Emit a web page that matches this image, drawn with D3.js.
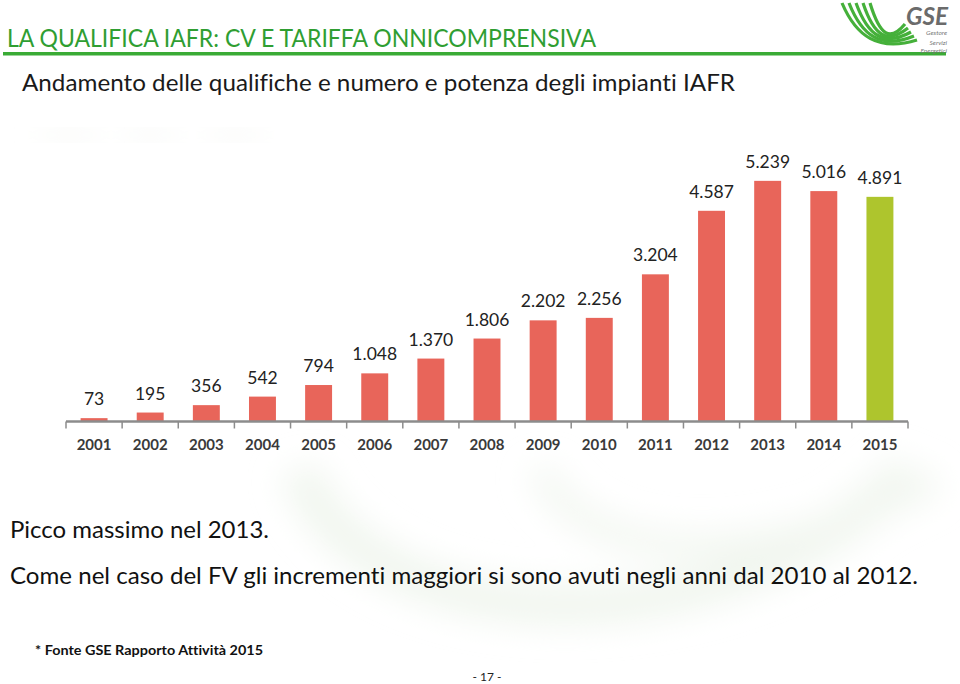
<!DOCTYPE html>
<meta charset="utf-8">
<head>
    <title>Qualifica IAFR</title>
</head>
<style>
    body { margin: 0; background: #fff; }
    svg { display: block; }
    text { font-family: Lato, "Open Sans", sans-serif; font-variant-ligatures: none; }
    .axis .domain { stroke: #8c8c8c; stroke-width: 2.5px; }
    .axis text { font-size: 15px; font-weight: bold; fill: #3a3a3a; }
    .value { font-size: 17.5px; fill: #222; text-anchor: middle; }
</style>
<svg width="960" height="684"></svg>
<script src="https://d3js.org/d3.v7.min.js"></script>
<script>

    // data
    var years = ["2001", "2002", "2003", "2004", "2005", "2006", "2007", "2008",
                 "2009", "2010", "2011", "2012", "2013", "2014", "2015"];
    var qualifiche = [73, 195, 356, 542, 794, 1048, 1370, 1806,
                      2202, 2256, 3204, 4587, 5239, 5016, 4891];
    var labels = ["73", "195", "356", "542", "794", "1.048", "1.370", "1.806",
                  "2.202", "2.256", "3.204", "4.587", "5.239", "5.016", "4.891"];

    var svg = d3.select("svg");

    // faint background watermark
    var defs = svg.append("defs");
    defs.append("filter").attr("id", "blur")
        .attr("x", "-50%").attr("y", "-50%").attr("width", "200%").attr("height", "200%")
        .append("feGaussianBlur").attr("stdDeviation", 16);
    var bg = svg.append("g").attr("filter", "url(#blur)");
    bg.append("path")
        .attr("d", "M300,470 C360,640 720,660 910,470")
        .attr("fill", "none").attr("stroke", "#f1f6ef").attr("stroke-width", 40);
    bg.append("path")
        .attr("d", "M540,470 C590,570 770,570 935,480")
        .attr("fill", "none").attr("stroke", "#f3f7f1").attr("stroke-width", 26);
    [[42, 55], [125, 50], [210, 50]].forEach(function(p) {
        svg.append("rect").attr("x", p[0]).attr("y", 131).attr("width", p[1]).attr("height", 8)
            .attr("fill", "#f3f4f0").attr("filter", "url(#blur)");
    });

    // header
    svg.append("text")
        .attr("x", 7).attr("y", 47)
        .attr("font-size", 24.5).attr("fill", "#2f9e32")
        .attr("textLength", 589).attr("lengthAdjust", "spacingAndGlyphs")
        .text("LA QUALIFICA IAFR: CV E TARIFFA ONNICOMPRENSIVA");

    svg.append("rect")
        .attr("x", 3).attr("y", 52).attr("width", 943).attr("height", 3.5)
        .attr("fill", "#3aab35");

    // logo
    var logo = svg.append("g");
    d3.range(5).forEach(function(i) {
        logo.append("path")
            .attr("d", "M" + (842 + i * 7) + ",3 C" + (856 + i * 6) + ",36 " + (878 + i * 3) + "," + (52 - i * 2.5) +
                " " + (917 - i * 3) + "," + (40 - i * 4))
            .attr("fill", "none").attr("stroke", "#45b03a").attr("stroke-width", 3.2);
    });
    logo.append("text")
        .attr("x", 906).attr("y", 25)
        .attr("font-size", 25).attr("font-weight", "bold").attr("font-style", "italic")
        .attr("textLength", 42).attr("lengthAdjust", "spacingAndGlyphs")
        .attr("fill", "#6b6b6b").text("GSE");
    [["Gestore", 35], ["Servizi", 45], ["Energetici", 53]].forEach(function(t) {
        logo.append("text")
            .attr("x", 947).attr("y", t[1]).attr("text-anchor", "end")
            .attr("font-size", 6.5).attr("font-style", "italic").attr("fill", "#777").text(t[0]);
    });

    svg.append("text")
        .attr("x", 22).attr("y", 91)
        .attr("font-size", 23.5).attr("fill", "#1a1a1a")
        .attr("textLength", 713).attr("lengthAdjust", "spacingAndGlyphs")
        .text("Andamento delle qualifiche e numero e potenza degli impianti IAFR");

    // chart
    var x = d3.scaleBand()
        .domain(years)
        .range([66, 908])
        .paddingInner(0.52)
        .paddingOuter(0.26);

    var y = d3.scaleLinear()
        .domain([0, 6000])
        .range([421.5, 145.9]);

    var data = years.map(function(yr, i) {
        return { year: yr, value: qualifiche[i], label: labels[i] };
    });

    var g = svg.append("g");

    g.selectAll(".bar")
        .data(data)
        .enter().append("rect")
        .attr("class", "bar")
        .attr("x", function(d) { return x(d.year); })
        .attr("width", x.bandwidth())
        .attr("y", function(d) { return y(d.value); })
        .attr("height", function(d) { return y(0) - y(d.value); })
        .attr("fill", function(d) { return d.year === "2015" ? "#aec52d" : "#e8655a"; });

    g.selectAll(".value")
        .data(data)
        .enter().append("text")
        .attr("class", "value")
        .attr("x", function(d) { return x(d.year) + x.bandwidth() / 2; })
        .attr("y", function(d) { return y(d.value) - 13; })
        .text(function(d) { return d.label; });

    var axis = g.append("g")
        .attr("class", "axis")
        .attr("transform", "translate(0," + y(0) + ")")
        .call(d3.axisBottom(x).tickSize(0).tickPadding(18));
    axis.select(".domain").attr("d", "M" + x.range()[0] + ",0H" + x.range()[1]);

    // ticks at band boundaries
    var gap = (x.step() - x.bandwidth()) / 2;
    var bounds = years.map(function(yr) { return x(yr) - gap; });
    bounds.push(x.range()[1]);
    axis.selectAll(".sep")
        .data(bounds)
        .enter().append("line")
        .attr("x1", function(d) { return d; }).attr("x2", function(d) { return d; })
        .attr("y1", 0).attr("y2", 7)
        .attr("stroke", "#8c8c8c").attr("stroke-width", 1.5);

    // notes
    svg.append("text")
        .attr("x", 10).attr("y", 538)
        .attr("font-size", 24).attr("fill", "#111")
        .attr("textLength", 259).attr("lengthAdjust", "spacingAndGlyphs")
        .text("Picco massimo nel 2013.");

    svg.append("text")
        .attr("x", 10).attr("y", 584)
        .attr("font-size", 24).attr("fill", "#111")
        .attr("textLength", 908).attr("lengthAdjust", "spacingAndGlyphs")
        .text("Come nel caso del FV gli incrementi maggiori si sono avuti negli anni dal 2010 al 2012.");

    svg.append("text")
        .attr("x", 35).attr("y", 655)
        .attr("font-size", 13.5).attr("font-weight", "bold").attr("fill", "#111")
        .attr("textLength", 228).attr("lengthAdjust", "spacingAndGlyphs")
        .text("* Fonte GSE Rapporto Attività 2015");

    svg.append("text")
        .attr("x", 487).attr("y", 681).attr("text-anchor", "middle")
        .attr("font-size", 12).attr("fill", "#222")
        .text("- 17 -");

</script>
